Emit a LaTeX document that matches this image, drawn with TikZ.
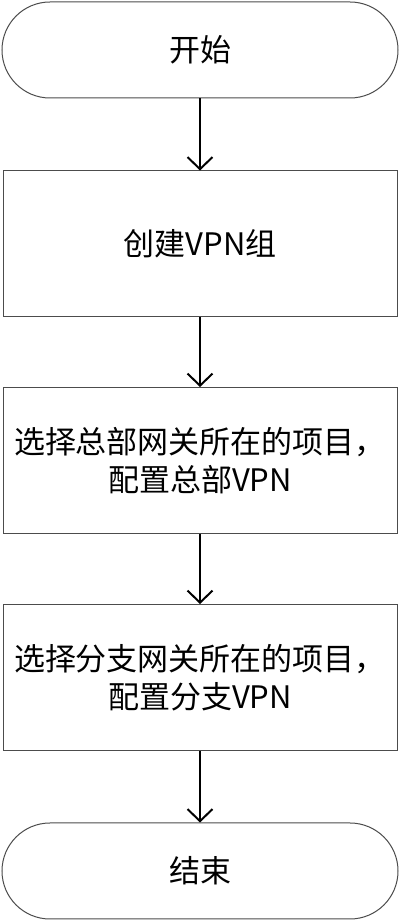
\documentclass[tikz,border=0pt]{standalone}
\usepackage{fontspec}
\setmainfont{Noto Sans CJK SC}
\usetikzlibrary{arrows.meta}
\tikzset{
  term/.style={draw=black!70, line width=1pt, rounded corners=48pt, minimum width=396pt, minimum height=96pt, inner sep=0pt, font=\fontsize{31}{38}\selectfont},
  proc/.style={draw=black!70, line width=1pt, minimum width=394pt, minimum height=146pt, inner sep=0pt, align=center, font=\fontsize{31}{38}\selectfont},
  flow/.style={-{Straight Barb[length=12pt,width=25pt]}, line width=2pt}
}
\begin{document}
\begin{tikzpicture}[x=1pt,y=1pt]
\useasboundingbox (0,0) rectangle (400,922);
\node[term] (start) at (200,872){开始};
\node[proc] (group) at (200,678){创建VPN组};
\node[proc] (hq) at (200,461.5){选择总部网关所在的项目，\\配置总部VPN};
\node[proc] (branch) at (200,244.5){选择分支网关所在的项目，\\配置分支VPN};
\node[term] (stop) at (200,51){结束};
\draw[flow](start) -- (group);
\draw[flow](group) -- (hq);
\draw[flow](hq) -- (branch);
\draw[flow](branch) -- (stop);
\end{tikzpicture}
\end{document}
